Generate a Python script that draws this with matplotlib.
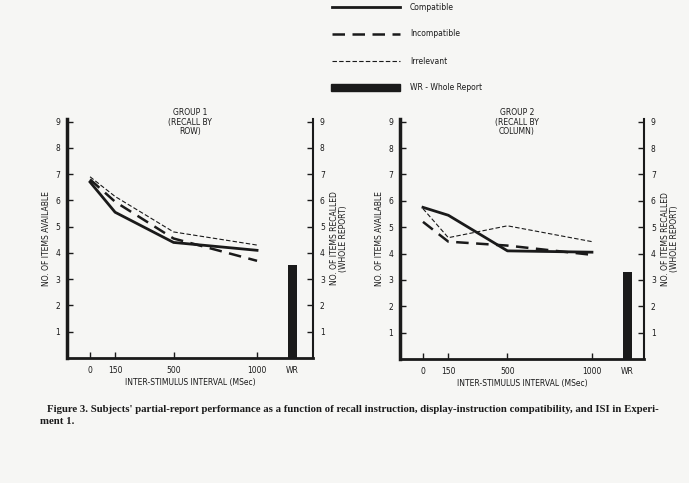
import matplotlib
matplotlib.use('Agg')
import matplotlib.pyplot as plt
from matplotlib.patches import Rectangle
from matplotlib.lines import Line2D

# %% Data
isi = [0, 150, 500, 1000]
isi_labels = ['0', '150', '500', '1000']
wr_pos = 1210

g1_compatible = [6.7, 5.55, 4.4, 4.1]
g1_incompatible = [6.8, 5.95, 4.55, 3.7]
g1_irrelevant = [6.9, 6.15, 4.8, 4.3]
g1_whole = 3.55

g2_compatible = [5.75, 5.45, 4.1, 4.05]
g2_incompatible = [5.2, 4.45, 4.3, 3.95]
g2_irrelevant = [5.7, 4.6, 5.05, 4.45]
g2_whole = 3.3

yticks = [1, 2, 3, 4, 5, 6, 7, 8, 9]

ink = '#1a1a1a'
bg = '#f6f6f4'
W, H = 689, 483

def px_axes(fig, left, top, right, bottom):
    return fig.add_axes([left / W, 1 - bottom / H, (right - left) / W, (bottom - top) / H])

def panel(fig, box, xlim, comp, incomp, irr, whole, title, title_x):
    ax = px_axes(fig, *box)
    ax.set_facecolor(bg)
    ax.plot(isi, irr, color=ink, lw=0.8, dashes=(4, 2))
    ax.plot(isi, incomp, color=ink, lw=1.8, dashes=(5, 3))
    ax.plot(isi, comp, color=ink, lw=2.0)
    ax.bar(wr_pos, whole, width=55, color=ink)
    ax.set_xlim(*xlim)
    ax.set_ylim(0, 9.1)
    ax.set_xticks(isi + [wr_pos])
    ax.set_xticklabels(isi_labels + ['WR'])
    ax.set_yticks(yticks)
    ax.set_yticklabels([str(t) for t in yticks])
    ax.tick_params(axis='both', direction='in', length=4, width=1, colors=ink,
                   labelsize=5.5, pad=5)
    ax.tick_params(axis='x', pad=6)
    ax.spines['top'].set_visible(False)
    ax.spines['left'].set_linewidth(2.5)
    ax.spines['bottom'].set_linewidth(2.0)
    ax.spines['right'].set_linewidth(1.5)
    for s in ax.spines.values():
        s.set_color(ink)
    ax.set_xlabel('INTER-STIMULUS INTERVAL (MSec)', fontsize=5.5, color=ink, labelpad=2)
    ax.set_ylabel('NO. OF ITEMS AVAILABLE', fontsize=5.5, color=ink, labelpad=3)

    ax2 = ax.twinx()
    ax2.set_ylim(0, 9.1)
    ax2.set_yticks(yticks)
    ax2.set_yticklabels([str(t) for t in yticks])
    ax2.tick_params(axis='y', direction='in', length=4, width=1, colors=ink,
                    labelsize=5.5, pad=5)
    for s in ax2.spines.values():
        s.set_visible(False)
    ax2.set_ylabel('NO. OF ITEMS RECALLED\n(WHOLE REPORT)', fontsize=5.5, color=ink,
                   rotation=90, labelpad=4, linespacing=1.0)

    fig.text(title_x / W, 1 - 108 / H, title, ha='center', va='top', fontsize=5.5,
             color=ink, linespacing=1.1)
    return ax

fig = plt.figure(figsize=(6.89, 4.83), dpi=100, facecolor=bg)

panel(fig, (67, 119, 313, 358), (-138, 1335),
      g1_compatible, g1_incompatible, g1_irrelevant, g1_whole,
      'GROUP 1\n(RECALL BY\nROW)', 190)
panel(fig, (400, 119, 644, 359), (-136, 1308),
      g2_compatible, g2_incompatible, g2_irrelevant, g2_whole,
      'GROUP 2\n(RECALL BY\nCOLUMN)', 517)

# %% Legend drawn at the top of the page
leg_labels = ['Compatible', 'Incompatible', 'Irrelevant', 'WR - Whole Report']
leg_y = [7, 34, 61, 87]
fx = lambda x: x / W
fy = lambda y: 1 - y / H
fig.add_artist(Line2D([fx(332), fx(400)], [fy(leg_y[0])] * 2, color=ink, lw=2.0))
fig.add_artist(Line2D([fx(332), fx(400)], [fy(leg_y[1])] * 2, color=ink, lw=1.8, dashes=(5, 3)))
fig.add_artist(Line2D([fx(332), fx(400)], [fy(leg_y[2])] * 2, color=ink, lw=0.8, dashes=(4, 2)))
fig.add_artist(Rectangle((fx(331), fy(leg_y[3] + 3.5)), fx(69), 7 / H, color=ink))
for lab, y in zip(leg_labels, leg_y):
    fig.text(fx(410), fy(y), lab, fontsize=5.5, va='center', ha='left', color=ink)

# %% Caption
fig.text(fx(47), fy(409),
         "Figure 3. Subjects' partial-report performance as a function of recall instruction, "
         "display-instruction compatibility, and ISI in Experi-",
         fontsize=7.75, family='Liberation Serif', weight='bold', va='center', color=ink)
fig.text(fx(40), fy(422), 'ment 1.', fontsize=7.75, family='Liberation Serif',
         weight='bold', va='center', color=ink)

fig.savefig('out.png', dpi=100, facecolor=bg)
